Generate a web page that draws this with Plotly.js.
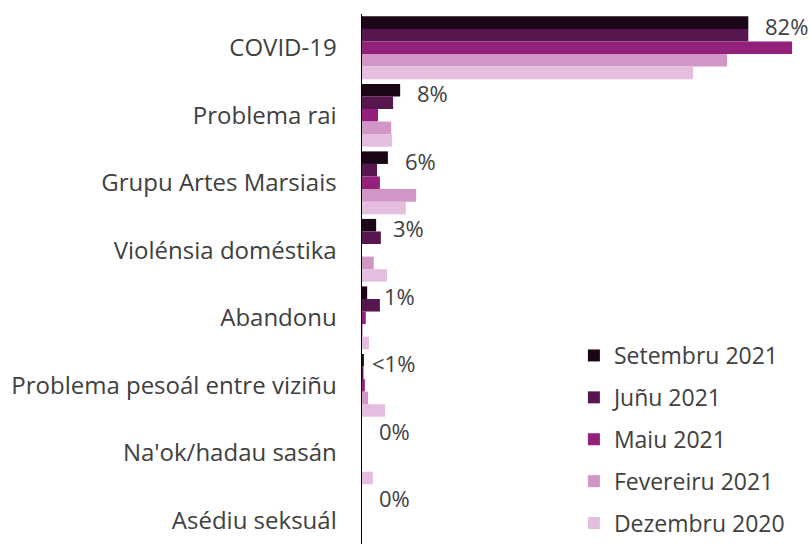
<!DOCTYPE html>
<html>
<head>
<meta charset="utf-8">
<script src="https://cdn.plot.ly/plotly-3.0.1.min.js"></script>
<style>
  html, body { margin: 0; padding: 0; background: #ffffff; }
  #chart { width: 810px; height: 545px; }
</style>
</head>
<body>
<div id="chart"></div>
<script>
const categories = [
  "COVID-19",
  "Problema rai",
  "Grupu Artes Marsiais",
  "Violénsia doméstika",
  "Abandonu",
  "Problema pesoál entre viziñu",
  "Na'ok/hadau sasán",
  "Asédiu seksuál"
];

const seriesNames = ["Setembru 2021", "Juñu 2021", "Maiu 2021", "Fevereiru 2021", "Dezembru 2020"];

const setembru2021 = [82, 8.1, 5.5, 3.0, 1.1, 0.4, 0, 0];
const junu2021     = [82, 6.6, 3.2, 4.0, 3.8, 0.3, 0, 0];
const maiu2021     = [91.3, 3.4, 3.8, 0, 0.8, 0.6, 0, 0];
const fevereiru2021 = [77.5, 6.2, 11.5, 2.5, 0.2, 1.3, 0, 0];
const dezembru2020 = [70.3, 6.4, 9.3, 5.3, 1.5, 4.9, 2.3, 0];

const setembruLabels = ["82%", "8%", "6%", "3%", "1%", "<1%", "0%", "0%"];

const seriesValues = [setembru2021, junu2021, maiu2021, fevereiru2021, dezembru2020];
const seriesColors = ["#1a0616", "#571650", "#93207a", "#d296c6", "#e5bddf"];

const FONT = "Open Sans, Liberation Sans, Arial, sans-serif";

const traces = seriesNames.map((name, i) => ({
  type: "bar",
  orientation: "h",
  name: name,
  y: categories,
  x: seriesValues[i],
  marker: { color: seriesColors[i], line: { width: 0 } },
  legendgroup: "g" + i,
  hoverinfo: "x+name"
}));

const annotations = categories.map((c, i) => ({
  x: setembru2021[i],
  y: c,
  xref: "x",
  yref: "y",
  text: setembruLabels[i],
  showarrow: false,
  xanchor: "left",
  yanchor: "middle",
  xshift: setembruLabels[i].startsWith("<") ? 6 : 15,
  yshift: 22,
  font: { family: FONT, size: 22, color: "#404040" }
}));

const layout = {
  width: 810,
  height: 545,
  margin: { l: 362, r: 0, t: 14, b: 0, pad: 0 },
  paper_bgcolor: "#ffffff",
  plot_bgcolor: "#ffffff",
  barmode: "group",
  bargap: 0.07,
  bargroupgap: 0,
  showlegend: true,
  legend: {
    x: 0.473,
    xanchor: "left",
    y: 0.396,
    yanchor: "top",
    traceorder: "grouped",
    tracegroupgap: 9,
    itemwidth: 30,
    font: { family: FONT, size: 23, color: "#404040" },
    bgcolor: "rgba(0,0,0,0)"
  },
  xaxis: {
    range: [0, 95.1],
    showgrid: false,
    zeroline: false,
    showline: false,
    showticklabels: false,
    ticks: "",
    fixedrange: true
  },
  yaxis: {
    type: "category",
    range: [7.35, -0.5],
    showgrid: false,
    zeroline: false,
    showline: true,
    linecolor: "#000000",
    linewidth: 1.5,
    ticks: "",
    ticklabelstandoff: 19,
    tickfont: { family: FONT, size: 24, color: "#404040" },
    fixedrange: true
  },
  annotations: annotations,
  font: { family: FONT, color: "#404040" }
};

Plotly.newPlot("chart", traces, layout, { displayModeBar: false, staticPlot: true });
</script>
</body>
</html>
